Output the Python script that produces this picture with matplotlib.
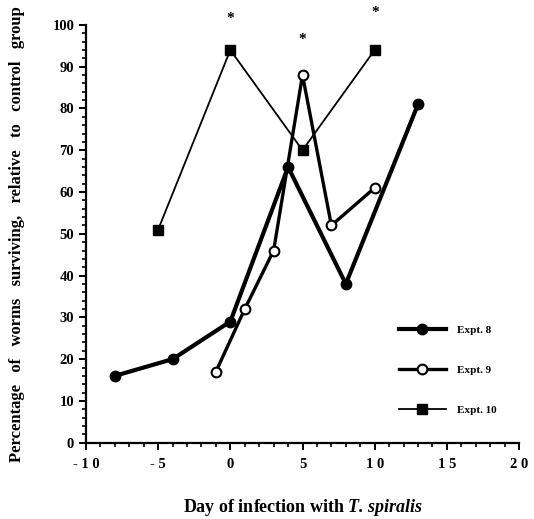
import matplotlib.pyplot as plt
from matplotlib.ticker import MultipleLocator, FuncFormatter

plt.rcParams['font.family'] = ['Liberation Serif', 'DejaVu Serif']
plt.rcParams['font.weight'] = 'bold'
plt.rcParams['mathtext.fontset'] = 'custom'
plt.rcParams['mathtext.bfit'] = 'Liberation Serif:italic:bold'

# data
day_8 = [-8, -4, 0, 4, 8, 13]
surv_8 = [16, 20, 29, 66, 38, 81]
day_9 = [-1, 1, 3, 5, 7, 10]
surv_9 = [17, 32, 46, 88, 52, 61]
day_10 = [-5, 0, 5, 10]
surv_10 = [51, 94, 70, 94]
star_days = [0, 5, 10]
star_heights = [101.5, 96.5, 103]

fig = plt.figure(figsize=(5.34, 5.19), dpi=100)
ax = fig.add_axes([0.161, 0.147, 0.811, 0.805])

ax.plot(day_8, surv_8, color='black', lw=3.0, marker='o', ms=7.5,
        mfc='black', mec='black', label='Expt. 8')
ax.plot(day_9, surv_9, color='black', lw=2.4, marker='o', ms=7,
        mfc='white', mec='black', mew=1.5, label='Expt. 9')
ax.plot(day_10, surv_10, color='black', lw=1.3, marker='s', ms=7.5,
        mfc='black', mec='black', label='Expt. 10')

for d, h in zip(star_days, star_heights):
    ax.text(d, h, '*', ha='center', va='center', fontsize=11,
            clip_on=False)


def spaced(v, pos):
    sign = '- ' if v < 0 else ''
    digits = '%d' % abs(v)
    return sign + ' '.join(digits)


ax.set_xlim(-10, 20)
ax.set_ylim(0, 100)
ax.xaxis.set_major_locator(MultipleLocator(5))
ax.xaxis.set_minor_locator(MultipleLocator(1))
ax.xaxis.set_major_formatter(FuncFormatter(spaced))
ax.yaxis.set_major_locator(MultipleLocator(10))
ax.yaxis.set_minor_locator(MultipleLocator(2))
ax.spines['top'].set_visible(False)
ax.spines['right'].set_visible(False)
ax.spines['left'].set_linewidth(1.6)
ax.spines['bottom'].set_linewidth(1.6)
ax.tick_params(which='major', length=5, width=1.4, labelsize=10.5)
ax.tick_params(which='minor', length=3, width=1.2)
ax.tick_params(axis='x', pad=6)
plt.setp(ax.get_xticklabels(), fontweight='bold')
plt.setp(ax.get_yticklabels(), fontweight='bold')

ax.set_ylabel('Percentage   of   worms   surviving,   relative   to   control   group',
              fontsize=12, fontweight='bold', labelpad=20)
ax.set_xlabel(r'Day of infection with $\mathbfit{T.spiralis}$',
              fontsize=13, fontweight='bold', labelpad=19)

leg = ax.legend(loc='upper left', bbox_to_anchor=(0.70, 0.305),
                frameon=False, fontsize=8, handlelength=4.2,
                labelspacing=2.7, handletextpad=1.0)

fig.savefig('out.png', dpi=100)
